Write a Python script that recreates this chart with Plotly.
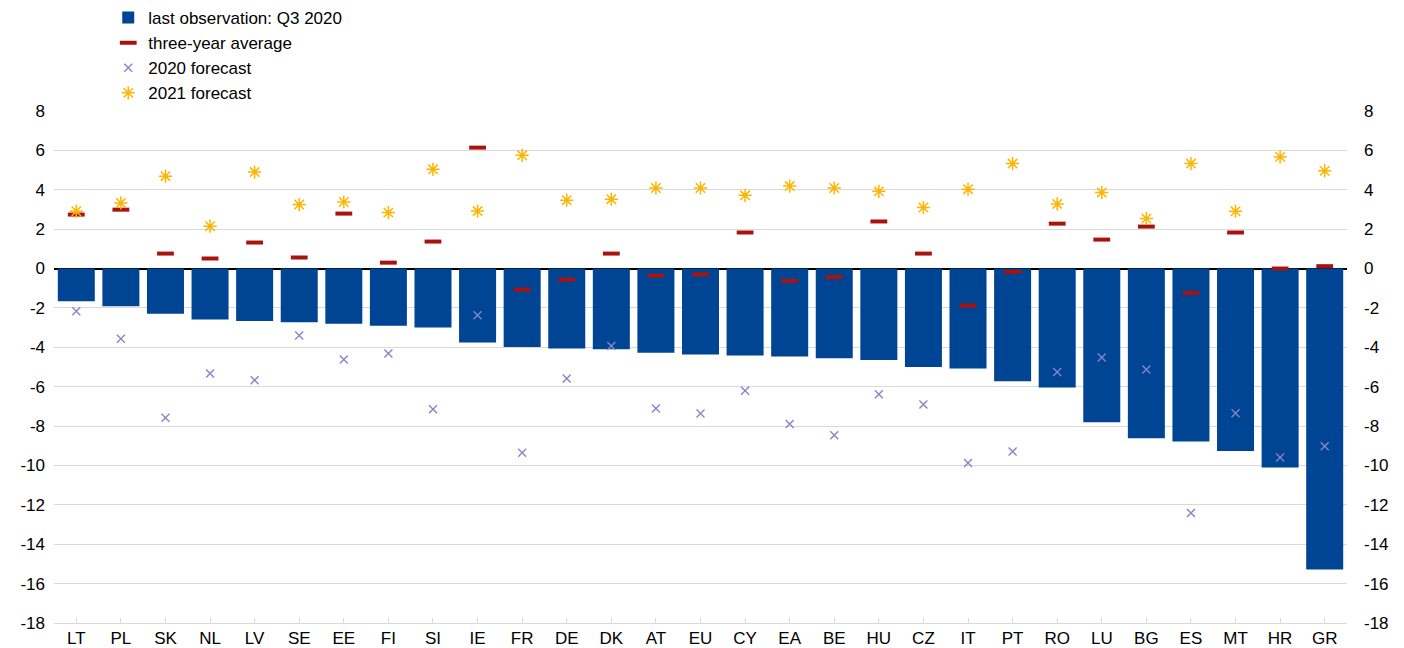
import plotly.graph_objects as go

countries = ["LT", "PL", "SK", "NL", "LV", "SE", "EE", "FI", "SI", "IE",
             "FR", "DE", "DK", "AT", "EU", "CY", "EA", "BE", "HU", "CZ",
             "IT", "PT", "RO", "LU", "BG", "ES", "MT", "HR", "GR"]

last_obs = [-1.66, -1.91, -2.30, -2.59, -2.66, -2.73, -2.80, -2.90, -3.00, -3.76,
            -3.98, -4.06, -4.10, -4.28, -4.36, -4.42, -4.47, -4.55, -4.64, -5.00,
            -5.08, -5.72, -6.04, -7.80, -8.62, -8.78, -9.26, -10.10, -15.28]

three_year_avg = [2.74, 2.99, 0.76, 0.51, 1.32, 0.56, 2.79, 0.30, 1.37, 6.14,
                  -1.07, -0.56, 0.76, -0.36, -0.30, 1.83, -0.63, -0.43, 2.39, 0.76,
                  -1.88, -0.17, 2.28, 1.47, 2.13, -1.24, 1.83, 0.00, 0.12]

forecast_2020 = [-2.17, -3.57, -7.58, -5.33, -5.67, -3.40, -4.62, -4.31, -7.14, -2.37,
                 -9.36, -5.58, -3.93, -7.11, -7.36, -6.21, -7.90, -8.46, -6.38, -6.90,
                 -9.88, -9.29, -5.25, -4.52, -5.13, -12.41, -7.35, -9.59, -9.02]

forecast_2021 = [2.91, 3.33, 4.69, 2.15, 4.90, 3.25, 3.38, 2.84, 5.04, 2.92,
                 5.75, 3.47, 3.52, 4.09, 4.09, 3.72, 4.19, 4.09, 3.92, 3.10,
                 4.03, 5.33, 3.28, 3.86, 2.54, 5.33, 2.91, 5.67, 4.96]

y_ticks = [-18, -16, -14, -12, -10, -8, -6, -4, -2, 0, 2, 4, 6, 8]
y_tick_labels = ["-18", "-16", "-14", "-12", "-10", "-8", "-6", "-4", "-2", "0", "2", "4", "6", "8"]

BLUE = "#004494"
RED = "#A8130E"
LAV = "#8585C9"
YEL = "#FFB400"
FONT = "Liberation Sans, Arial, sans-serif"

fig = go.Figure()
fig.add_trace(go.Bar(x=countries, y=last_obs, name="last observation: Q3 2020",
                     marker=dict(color=BLUE, line=dict(width=0)), width=0.83))
fig.add_trace(go.Scatter(x=countries, y=three_year_avg, mode="markers", name="three-year average",
                         marker=dict(symbol="line-ew", size=12, color=RED,
                                     line=dict(color=RED, width=4))))
fig.add_trace(go.Scatter(x=countries, y=forecast_2020, mode="markers", name="2020 forecast",
                         marker=dict(symbol="x-thin-open", size=8, color=LAV,
                                     line=dict(color=LAV, width=1.4))))
fig.add_trace(go.Scatter(x=countries, y=forecast_2021, mode="markers", name="2021 forecast",
                         marker=dict(symbol="asterisk-open", size=11, color=YEL,
                                     line=dict(color=YEL, width=1.5))))
# invisible helper so the right-hand axis is drawn
fig.add_trace(go.Scatter(x=countries, y=last_obs, yaxis="y2", mode="markers",
                         marker=dict(opacity=0), showlegend=False, hoverinfo="skip"))

fig.update_layout(
    width=1404, height=648,
    margin=dict(l=54, r=57, t=111, b=25, autoexpand=False),
    paper_bgcolor="white", plot_bgcolor="white",
    font=dict(family=FONT, size=17, color="#000000"),
    showlegend=True,
    legend=dict(xref="container", yref="container", x=0.0771, y=1.0,
                xanchor="left", yanchor="top", font=dict(size=17),
                bgcolor="rgba(0,0,0,0)", traceorder="normal", itemwidth=30),
    xaxis=dict(type="category", showgrid=False, showline=True, linecolor="#d9d9d9",
               ticks="inside", ticklen=5, tickcolor="#d9d9d9",
               tickfont=dict(size=17), range=[-0.5, len(countries) - 0.5]),
    yaxis=dict(range=[-18, 8], tickvals=y_ticks, ticktext=y_tick_labels,
               showgrid=True, gridcolor="#d9d9d9",
               gridwidth=1, zeroline=True, zerolinecolor="#000000", zerolinewidth=1.5,
               tickfont=dict(size=17), ticklabelstandoff=8),
    yaxis2=dict(range=[-18, 8], tickvals=y_ticks, ticktext=y_tick_labels,
                overlaying="y", side="right",
                showgrid=False, zeroline=False,
                tickfont=dict(size=17), ticklabelstandoff=16),
)

fig.write_html("out.html", config={"displayModeBar": False},
               post_script="document.body.style.margin='0';document.body.style.overflow='hidden';")
